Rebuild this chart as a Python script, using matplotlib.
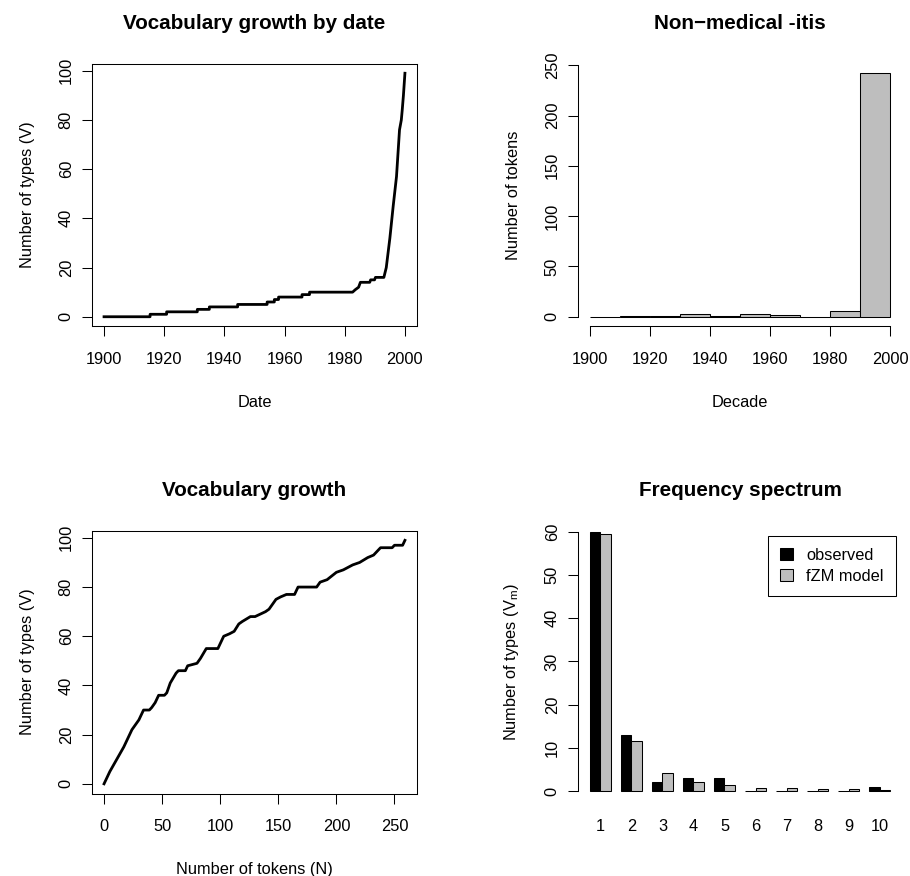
import matplotlib

matplotlib.use('Agg')
import matplotlib.pyplot as plt
from matplotlib.patches import Patch

plt.rcParams['font.family'] = ['Liberation Sans', 'DejaVu Sans']
plt.rcParams['mathtext.fontset'] = 'custom'
plt.rcParams['mathtext.rm'] = 'Liberation Sans'

# vocabulary growth by date (step corners)
growth_dates = [1900, 1915.3, 1915.3, 1920.8, 1920.8, 1931, 1931, 1935, 1935, 1944.4, 1944.4,
                1954.2, 1954.2, 1956.6, 1956.6, 1958, 1958, 1965.8, 1965.8, 1968.3, 1968.3,
                1982.6, 1983.5, 1984.6, 1985.2, 1988.3, 1988.6, 1989.9, 1990.2, 1993.0,
                1993.8, 1995.0, 1996.1, 1997.2, 1998.2, 1998.8, 1999.1, 1999.5, 2000]
growth_types = [0, 0, 1, 1, 2, 2, 3, 3, 4, 4, 5,
                5, 6, 6, 7, 7, 8, 8, 9, 9, 10,
                10, 11, 12, 14, 14, 15, 15, 16, 16,
                20, 32, 45, 57, 76, 80, 84, 90, 99]

# tokens per decade
decade_edges = [1900, 1910, 1920, 1930, 1940, 1950, 1960, 1970, 1980, 1990, 2000]
decade_counts = [0, 1, 1, 3, 1, 3, 2, 0, 6, 242]

# vocabulary growth by token count
vgc_tokens = [0, 5, 17, 24, 30, 34, 39, 41, 44, 47, 52, 54, 57, 62, 64, 70, 72, 80, 83, 88, 98,
              100, 103, 108, 112, 116, 119, 126, 130, 139, 142, 148, 152, 157, 164, 167, 183,
              186, 192, 200, 206, 214, 220, 227, 232, 238, 248, 250, 257, 259]
vgc_types = [0, 5, 15, 22, 26, 30, 30, 31, 33, 36, 36, 37, 41, 45, 46, 46, 48, 49, 51, 55, 55,
             57, 60, 61, 62, 65, 66, 68, 68, 70, 71, 75, 76, 77, 77, 80, 80,
             82, 83, 86, 87, 89, 90, 92, 93, 96, 96, 97, 97, 99]

# frequency spectrum
spc_m = [1, 2, 3, 4, 5, 6, 7, 8, 9, 10]
spc_observed = [60, 13, 2, 3, 3, 0, 0, 0, 0, 1]
spc_model = [59.5, 11.6, 4.1, 2.1, 1.3, 0.8, 0.6, 0.47, 0.4, 0.32]

GRAY = '#BEBEBE'
TICK_FS = 11.8
TITLE_FS = 14.9


def style_axis(ax, title, xlabel, ylabel):
    ax.set_title(title, fontsize=TITLE_FS, fontweight='bold', pad=25)
    ax.set_xlabel(xlabel, fontsize=TICK_FS, labelpad=20)
    ax.set_ylabel(ylabel, fontsize=TICK_FS, labelpad=17)
    ax.tick_params(direction='out', length=7.2, width=0.75, labelsize=TICK_FS, pad=6)
    ax.tick_params(axis='x', pad=11)
    ax.tick_params(axis='y', labelrotation=90)
    for lbl in ax.get_yticklabels():
        lbl.set_va('center')
    for sp in ax.spines.values():
        sp.set_linewidth(0.75)


fig = plt.figure(figsize=(9.1, 8.76), dpi=100)
ax1 = fig.add_axes([0.1011, 0.6273, 0.3571, 0.3002])
ax2 = fig.add_axes([0.6352, 0.6273, 0.3560, 0.3002])
ax3 = fig.add_axes([0.1011, 0.0941, 0.3571, 0.3002])
ax4 = fig.add_axes([0.6352, 0.0941, 0.3560, 0.3002])

# top left
ax1.plot(growth_dates, growth_types, color='black', linewidth=2.0)
ax1.set_xlim(1896, 2004)
ax1.set_ylim(-3.96, 102.96)
ax1.set_xticks(range(1900, 2001, 20))
ax1.set_yticks(range(0, 101, 20))
style_axis(ax1, 'Vocabulary growth by date', 'Date', 'Number of types (V)')

# top right: histogram per decade
ax2.bar(decade_edges[:-1], decade_counts, width=10, align='edge', color=GRAY,
        edgecolor='black', linewidth=0.75)
ax2.set_xlim(1896, 2004)
ax2.set_ylim(-9.68, 251.68)
ax2.set_xticks(range(1900, 2001, 20))
ax2.set_yticks(range(0, 251, 50))
ax2.spines['top'].set_visible(False)
ax2.spines['right'].set_visible(False)
ax2.spines['left'].set_bounds(0, 250)
ax2.spines['bottom'].set_bounds(1900, 2000)
style_axis(ax2, 'Non\u2212medical -itis', 'Decade', 'Number of tokens')

# bottom left
ax3.plot(vgc_tokens, vgc_types, color='black', linewidth=2.0)
ax3.set_xlim(-10.36, 269.36)
ax3.set_ylim(-3.96, 102.96)
ax3.set_xticks(range(0, 251, 50))
ax3.set_yticks(range(0, 101, 20))
style_axis(ax3, 'Vocabulary growth', 'Number of tokens (N)', 'Number of types (V)')

# bottom right: observed vs model spectrum, side by side
obs_x = [3 * (m - 1) + 1 for m in spc_m]
mod_x = [3 * (m - 1) + 2 for m in spc_m]
ax4.bar(obs_x, spc_observed, width=1, align='edge', color='black', edgecolor='black',
        linewidth=0.75)
ax4.bar(mod_x, spc_model, width=1, align='edge', color=GRAY, edgecolor='black',
        linewidth=0.75)
ax4.set_xlim(-0.16, 31.16)
ax4.set_ylim(-0.6, 60.3)
ax4.set_xticks([3 * (m - 1) + 2 for m in spc_m])
ax4.set_xticklabels([str(m) for m in spc_m])
ax4.set_yticks(range(0, 61, 10))
for side in ['top', 'right', 'bottom']:
    ax4.spines[side].set_visible(False)
ax4.spines['left'].set_bounds(0, 60)
style_axis(ax4, 'Frequency spectrum', '', 'Number of types (V$_{\\mathrm{m}}$)')
ax4.tick_params(axis='x', length=0, pad=18)
handles = [Patch(facecolor='black', edgecolor='black', linewidth=0.75, label='observed'),
           Patch(facecolor=GRAY, edgecolor='black', linewidth=0.75, label='fZM model')]
leg = ax4.legend(handles=handles, loc='upper right', bbox_to_anchor=(0.981, 0.981),
                 borderaxespad=0, fancybox=False, framealpha=1, edgecolor='black',
                 fontsize=TICK_FS, handlelength=0.8, handleheight=0.8, handletextpad=0.8,
                 borderpad=0.75, labelspacing=0.35)
leg.get_frame().set_linewidth(0.75)

fig.savefig('out.png', dpi=100)
